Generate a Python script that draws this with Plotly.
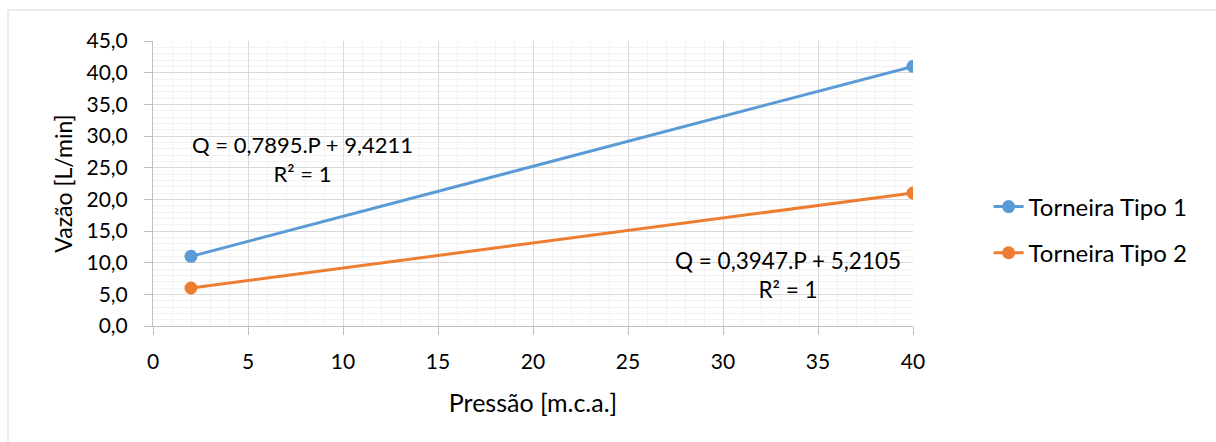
import plotly.graph_objects as go

pressao = [2, 40]
vazao_tipo1 = [11.0, 41.0]
vazao_tipo2 = [6.0, 21.0]
series_names = ["Torneira Tipo 1", "Torneira Tipo 2"]
eq_tipo1 = "Q = 0,7895.P + 9,4211<br>R² = 1"
eq_tipo2 = "Q = 0,3947.P + 5,2105<br>R² = 1"
x_title = "Pressão [m.c.a.]"
y_title = "Vazão [L/min]"

FONT = "Lato"

L, R, T, B = 153, 303, 41, 116
W, H = 1216, 442
pw = W - L - R
ph = H - T - B

fig = go.Figure()
fig.add_trace(go.Scatter(x=pressao, y=vazao_tipo1, mode="lines+markers", name=series_names[0],
                         line=dict(color="#5B9BD5", width=3), marker=dict(size=13, color="#5B9BD5"),
                         legendgroup="a"))
fig.add_trace(go.Scatter(x=pressao, y=vazao_tipo2, mode="lines+markers", name=series_names[1],
                         line=dict(color="#ED7D31", width=3), marker=dict(size=13, color="#ED7D31"),
                         legendgroup="b"))

fig.add_annotation(x=7.85, y=26.4, xref="x", yref="y", text=eq_tipo1, showarrow=False,
                   font=dict(family=FONT, size=22, color="#000"), align="center")
fig.add_annotation(x=33.4, y=8.1, xref="x", yref="y", text=eq_tipo2, showarrow=False,
                   font=dict(family=FONT, size=22.5, color="#000"), align="center")

# chart outer border (only top/left visible in reference)
fig.add_shape(type="rect", xref="paper", yref="paper",
              x0=(8 - L) / pw, x1=(1260 - L) / pw,
              y0=-(480 - T - ph) / ph, y1=(H - B - 10) / ph,
              line=dict(color="#D9D9D9", width=1), fillcolor="rgba(0,0,0,0)", layer="below")

axis_common = dict(
    showline=True, linecolor="#BFBFBF", linewidth=1,
    ticks="outside", ticklen=8, tickcolor="#BFBFBF", tickwidth=1,
    gridcolor="#D9D9D9", gridwidth=1, zeroline=False,
    tickfont=dict(family=FONT, size=21, color="#000"),
    minor=dict(dtick=1, showgrid=True, gridcolor="#F2F2F2", gridwidth=1, ticks=""),
)

fig.update_layout(
    width=W, height=H,
    margin=dict(l=L, r=R, t=T, b=B),
    paper_bgcolor="white", plot_bgcolor="white",
    separators=",.",
    font=dict(family=FONT, size=21, color="#000"),
    xaxis=dict(range=[0, 40], dtick=5, tick0=0, ticklabelstandoff=9,
               title=dict(text=x_title, font=dict(family=FONT, size=25), standoff=22),
               **axis_common),
    yaxis=dict(range=[0, 45], dtick=5, tick0=0, tickformat=".1f", ticklabelstandoff=12,
               title=dict(text=y_title, font=dict(family=FONT, size=23), standoff=7),
               **axis_common),
    legend=dict(x=1.0995, y=0.337, xanchor="left", yanchor="middle",
                font=dict(family=FONT, size=24, color="#000"),
                tracegroupgap=12, traceorder="grouped", bgcolor="rgba(0,0,0,0)"),
    showlegend=True,
)

fig.write_html("out.html")
